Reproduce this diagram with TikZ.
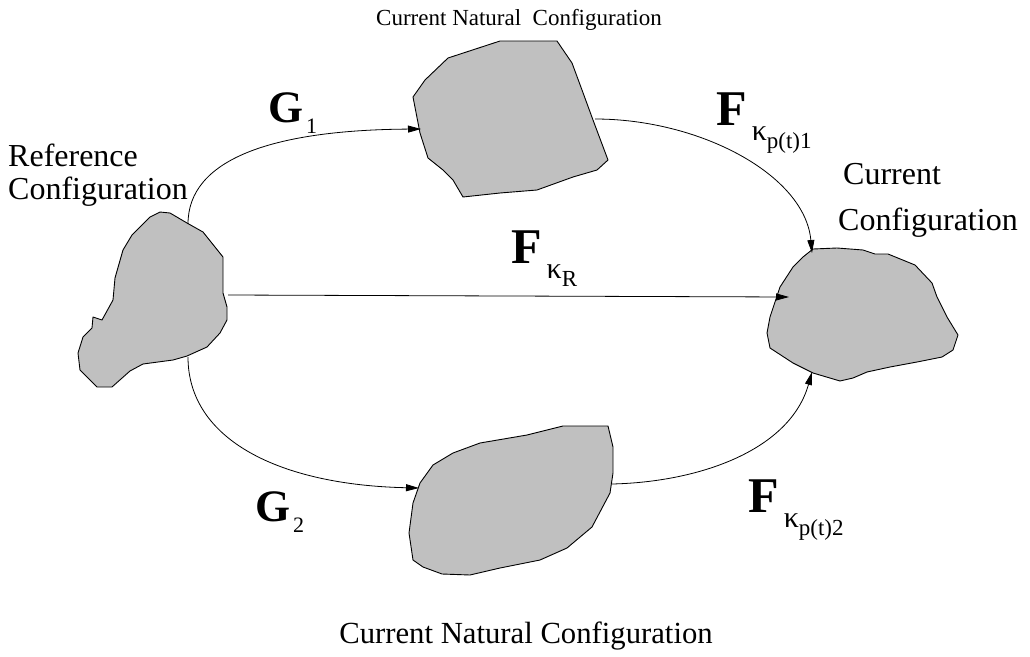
\documentclass[tikz,border=0pt]{standalone}
\usepackage{fontspec}
\setmainfont{Liberation Serif}
\usetikzlibrary{arrows.meta}

% label pieces: bold map letter, kappa index, lowered sub-index
\newcommand{\maplet}[1]{{\fontsize{50}{50}\selectfont\bfseries #1}}
\newcommand{\kapidx}[1]{\hspace{5pt}\raisebox{-15pt}{\fontsize{30}{30}\selectfont κ\raisebox{-8pt}{\fontsize{23}{23}\selectfont #1}}}
\newcommand{\gmap}[1]{{\fontsize{45}{45}\selectfont\bfseries G}\hspace{3pt}\raisebox{-11pt}{\fontsize{22}{22}\selectfont #1}}

\begin{document}
\begin{tikzpicture}[x=1pt,y=-1pt,
  body/.style={draw=black,fill={rgb,255:red,192;green,192;blue,192},line width=0.9pt,line join=round},
  mapping/.style={draw=black,line width=0.8pt,-{Triangle[length=13pt,width=7pt]}},
  caption/.style={inner sep=0pt,font=\fontsize{32}{36}\selectfont},
  lbl/.style={inner sep=0pt,anchor=base west}]
\useasboundingbox (0,0) rectangle (1030,656);

% reference body
\draw[body] (160,212) -- (170,213) -- (187,223) -- (203,232) -- (215,247) -- (223,257)
  -- (223,293) -- (227,307) -- (227,320) -- (220,333) -- (207,347) -- (187,356)
  -- (173,360) -- (143,364) -- (130,371) -- (112,387) -- (97,387) -- (80,370)
  -- (78,353) -- (83,337) -- (92,328) -- (93,317) -- (102,320) -- (113,300)
  -- (115,278) -- (123,250) -- (132,235) -- (150,217) -- cycle;

% upper natural body
\draw[body] (448,58) -- (500,41) -- (557,41) -- (572,63) -- (582,90) -- (593,120)
  -- (608,160) -- (597,170) -- (573,177) -- (537,190) -- (500,193) -- (463,197)
  -- (453,180) -- (443,170) -- (428,158) -- (420,133) -- (413,97) -- (425,80) -- cycle;

% current body
\draw[body] (813,249) -- (837,248) -- (863,250) -- (875,254) -- (888,254) -- (915,265)
  -- (932,283) -- (937,297) -- (947,317) -- (958,335) -- (953,350) -- (942,357)
  -- (917,362) -- (890,367) -- (867,372) -- (853,378) -- (840,381) -- (813,373)
  -- (793,363) -- (770,348) -- (767,333) -- (770,317) -- (780,287) -- (793,267)
  -- (803,257) -- cycle;

% lower natural body
\draw[body] (563,426) -- (608,426) -- (613,447) -- (613,473) -- (610,493) -- (592,527)
  -- (567,548) -- (540,560) -- (500,568) -- (470,575) -- (442,574) -- (423,567)
  -- (413,560) -- (409,533) -- (413,503) -- (420,483) -- (433,465) -- (453,453)
  -- (480,443) -- (527,435) -- cycle;

% attachment points on the bodies
\coordinate (ref-top) at (188,224);
\coordinate (ref-bot) at (188,357);
\coordinate (ref-right) at (228,295);
\coordinate (up-left) at (421,129);
\coordinate (up-right) at (595,119);
\coordinate (low-left) at (419,488);
\coordinate (low-right) at (612,484);
\coordinate (cur-top) at (812,253);
\coordinate (cur-left) at (789,297);
\coordinate (cur-bot) at (812,372);

% mappings
\draw[mapping] (ref-top) .. controls (188,160) and (270,130) .. (up-left);
\draw[mapping] (ref-bot) .. controls (188,440) and (280,485) .. (low-left);
\draw[mapping] (ref-right) -- (cur-left);
\draw[mapping] (up-right) .. controls (700,119) and (805,175) .. (cur-top);
\draw[mapping] (low-right) .. controls (700,482) and (790,450) .. (cur-bot);

% captions
\node[caption,anchor=base,font=\fontsize{23}{26}\selectfont] (cap-up) at (519,25) {Current Natural\ \ Configuration};
\node[caption,anchor=base,font=\fontsize{30.7}{34}\selectfont] (cap-low) at (526,643) {Current Natural Configuration};
\node[caption,anchor=base west] (cap-ref1) at (8,166) {Reference};
\node[caption,anchor=base west] (cap-ref2) at (8,199) {Configuration};
\node[caption,anchor=base west] (cap-cur1) at (843,184) {Current};
\node[caption,anchor=base west] (cap-cur2) at (838,230) {Configuration};

% mapping labels
\node[lbl] (lbl-g1) at (268,122) {\gmap{1}};
\node[lbl] (lbl-g2) at (255,521) {\gmap{2}};
\node[lbl] (lbl-f1) at (716,125) {\maplet{F}\kapidx{p(t)1}};
\node[lbl] (lbl-fr) at (511,263) {\maplet{F}\kapidx{R}};
\node[lbl] (lbl-f2) at (748,512) {\maplet{F}\kapidx{p(t)2}};
\end{tikzpicture}
\end{document}
